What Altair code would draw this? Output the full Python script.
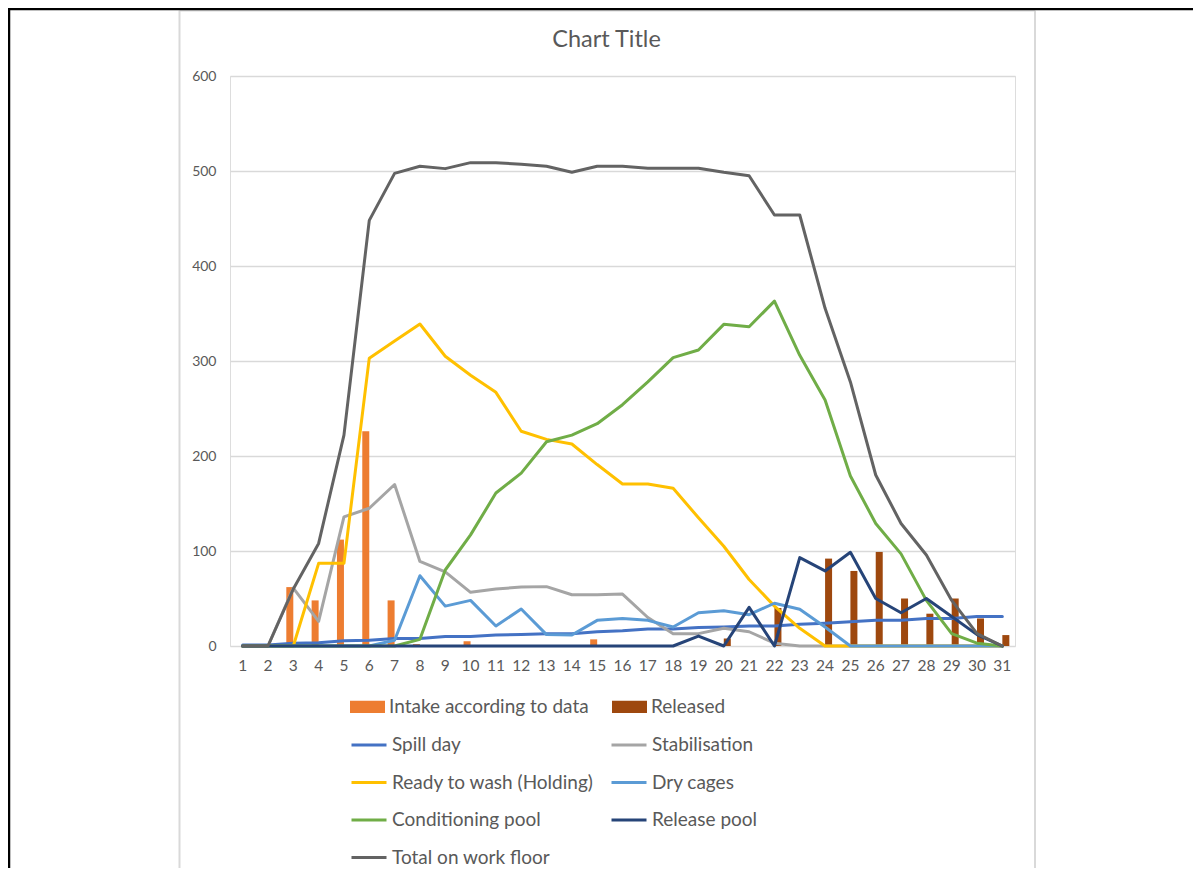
import altair as alt
import pandas as pd

days = list(range(1, 32))

# Bars
intake = [0, 0, 62, 48, 112, 226, 48, 2, 0, 5, 0, 0, 0, 0, 7, 0,
          0, 0, 0, 0, 0, 0, 0, 0, 0, 0, 0, 0, 0, 0, 0]
released = [0, 0, 0, 0, 0, 0, 0, 0, 0, 0, 0, 0, 0, 0, 0, 0, 0, 0, 0,
             8, 0, 40, 0, 92, 79, 99, 50, 34, 50, 29, 11.5]

# Lines
spill_day = [1, 1, 3, 3.5, 5.5, 6, 8, 8, 10, 10, 11.5, 12, 13, 13, 15, 16,
             18, 18, 19.5, 20, 21, 21, 23, 24, 25.5, 27, 27, 29, 29, 31, 31]
stabilisation = [0, 0, 61, 26, 136, 145, 170, 89, 78, 56.5, 60, 62, 62.5, 54, 54, 54.7,
                 30, 13, 13, 18.6, 15, 3, 0, 0, 0, 0, 0, 0, 0, 0, 0]
ready_to_wash = [0, 0, 0, 87, 87, 303, 321, 339, 305, 285, 267, 226, 217.5, 212.6, 191, 170.5,
                 170.5, 166, 135, 105, 70, 42, 18.6, 0, 0, 0, 0, 0, 0, 0, 0]
dry_cages = [0, 0, 0, 0, 0, 0, 6, 74, 42, 48, 21, 39, 12, 11.6, 27, 29,
             27, 20, 35, 37, 33, 45, 38.6, 20, 0, 0, 0, 0, 0, 0, 0]
conditioning = [0, 0, 0, 0, 0, 0, 0, 7, 80, 117, 161, 182, 215, 222, 234, 254,
                278, 303.5, 311.6, 338.6, 336, 363, 306, 259, 179, 129, 97, 48, 13, 3, 0]
release_pool = [0, 0, 0, 0, 0, 0, 0, 0, 0, 0, 0, 0, 0, 0, 0, 0, 0, 0,
                10.5, 0, 40.7, 0, 93, 79, 98.6, 50, 35, 50, 31, 12, 0]
total_floor = [0, 0, 60, 108, 222, 448, 497.5, 505, 502.5, 508.8, 508.8, 507, 505, 498.6, 505, 505,
               502.8, 502.8, 503, 498.6, 495, 453.7, 453.7, 355.5, 278, 180, 129, 95.8, 48, 13, 0]

bar_names = ["Intake according to data", "Released"]
bar_colors = ["#ED7D31", "#9E480E"]
line_names = ["Spill day", "Stabilisation", "Ready to wash (Holding)", "Dry cages",
              "Conditioning pool", "Release pool", "Total on work floor"]
line_colors = ["#4472C4", "#A5A5A5", "#FFC000", "#5B9BD5", "#70AD47", "#264478", "#636363"]
y_ticks = [0, 100, 200, 300, 400, 500, 600]

bar_series = [intake, released]
line_series = [spill_day, stabilisation, ready_to_wash, dry_cages, conditioning, release_pool, total_floor]

bars_df = pd.DataFrame([
    {"day": d, "series": n, "value": v}
    for n, vals in zip(bar_names, bar_series) for d, v in zip(days, vals)
])

FONT = "Lato"
TXT = "#595959"
GRID = "#D9D9D9"
LEG_FS = 19

x_scale = alt.Scale(domain=days, paddingInner=0.447, paddingOuter=0.2235)
x_axis = alt.Axis(title=None, labelAngle=0, ticks=False, domain=False, grid=False,
                  labelFont=FONT, labelFontSize=15.5, labelColor=TXT, labelPadding=12)
y_axis = alt.Axis(title=None, values=y_ticks, ticks=False, domain=False, grid=True,
                  gridColor=GRID, gridWidth=1.5, labelFont=FONT, labelFontSize=14,
                  labelColor=TXT, labelPadding=14)
y_scale = alt.Scale(domain=[0, 600], nice=False)

bar_legend = alt.Legend(title=None, orient="none", legendX=120, legendY=613, columns=2,
                        direction="horizontal",
                        symbolType="M-1,-0.35H1V0.35H-1Z", symbolSize=1225,
                        symbolStrokeWidth=0, labelFont=FONT, labelFontSize=LEG_FS,
                        labelFontWeight="normal",
                        labelColor=TXT, labelLimit=400, labelOffset=4, columnPadding=23,
                        rowPadding=8.5, padding=0)
line_legend = alt.Legend(title=None, orient="none", legendX=120, legendY=650, columns=2,
                         direction="horizontal",
                         symbolType="stroke", symbolSize=1225, symbolStrokeWidth=3,
                         labelFont=FONT, labelFontSize=LEG_FS, labelFontWeight="normal",
                         labelColor=TXT, labelLimit=400, labelOffset=4, columnPadding=11,
                         rowPadding=8.5, padding=0)

bars = alt.Chart(bars_df).mark_bar().encode(
    x=alt.X("day:O", scale=x_scale, axis=x_axis),
    xOffset=alt.XOffset("series:N", scale=alt.Scale(domain=bar_names)),
    y=alt.Y("value:Q", scale=y_scale, axis=y_axis),
    fill=alt.Fill("series:N", scale=alt.Scale(domain=bar_names, range=bar_colors),
                  legend=bar_legend),
)

line_layers = []
for name, vals in zip(line_names, line_series):
    df = pd.DataFrame({"day": days, "series": name, "value": vals})
    line_layers.append(
        alt.Chart(df).mark_line(strokeWidth=3, strokeJoin="round", strokeCap="round").encode(
            x=alt.X("day:O", scale=x_scale, axis=x_axis),
            y=alt.Y("value:Q", scale=y_scale, axis=y_axis),
            stroke=alt.Stroke("series:N", scale=alt.Scale(domain=line_names, range=line_colors),
                              legend=line_legend),
        )
    )

frame_src = alt.Chart(alt.Data(values=[{}]))
black_top = frame_src.mark_rule(color="black", strokeWidth=2.5).encode(
    x=alt.value(-222), x2=alt.value(963), y=alt.value(-67))
black_left = frame_src.mark_rule(color="black", strokeWidth=2.5).encode(
    x=alt.value(-221), y=alt.value(-67), y2=alt.value(800))
gray_top = frame_src.mark_rule(color=GRID, strokeWidth=2).encode(
    x=alt.value(-50.5), x2=alt.value(805), y=alt.value(-65.5))
gray_left = frame_src.mark_rule(color=GRID, strokeWidth=2).encode(
    x=alt.value(-50.5), y=alt.value(-65.5), y2=alt.value(800))
gray_right = frame_src.mark_rule(color=GRID, strokeWidth=2).encode(
    x=alt.value(805), y=alt.value(-65.5), y2=alt.value(800))

chart = alt.layer(
    gray_top, gray_left, gray_right, black_top, black_left,
    bars, *line_layers
).properties(
    width=785,
    height=570,
    autosize=alt.AutoSizeParams(type="none"),
    padding={"left": 222, "top": 68, "right": 178, "bottom": 222},
    title=alt.Title("Chart Title", font=FONT, fontSize=23.5, fontWeight="normal", color=TXT,
                    anchor="middle", frame="group", baseline="alphabetic", offset=0,
                    dx=-16, dy=63),
).configure_view(stroke=None).configure(background="white")

chart.save("out.html", embed_options={"renderer": "svg", "actions": False})
